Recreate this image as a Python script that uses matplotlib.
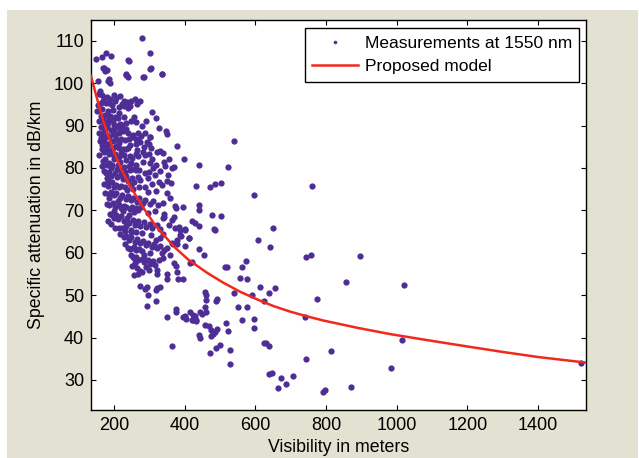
import matplotlib
matplotlib.use("Agg")
import matplotlib.pyplot as plt
from matplotlib.lines import Line2D
from matplotlib.patches import Rectangle

plt.rcParams['font.family'] = ['Liberation Sans', 'DejaVu Sans']

# Measured specific attenuation at 1550 nm versus visibility (one line per attenuation band)
visibility_m = [
    150, 165, 178, 192, 301, 242, 278, 172, 176, 180, 303, 337, 235, 239, 284, 156, 186, 190, 170, 240, 235, 283, 306, 335, 184,
    161, 158, 167, 173, 181, 189, 201, 207, 217, 169, 162, 204, 222, 227, 236, 247, 264, 273, 186, 194, 177, 213, 155, 241, 229, 245, 259,
    153, 162, 167, 176, 183, 189, 198, 203, 187, 177, 196, 211, 217, 227, 235, 249, 261, 279, 308, 320, 171, 164, 201, 214, 292, 258,
    157, 166, 171, 181, 187, 197, 203, 213, 219, 231, 239, 251, 255, 263, 269, 327, 348, 350, 378, 176, 184, 196, 206, 214, 167, 161, 226, 244, 276, 289, 301, 284, 539, 233, 179, 303, 293, 269, 273,
    166, 171, 181, 187, 197, 203, 213, 219, 229, 235, 245, 251, 261, 269, 281, 289, 301, 309, 321, 341, 369, 397, 441, 524, 169, 179, 185, 195, 201, 211, 217, 227, 233, 243, 249, 263, 176, 199, 214, 241, 266, 330, 304, 159, 167, 300, 319, 339, 355, 345, 363,
    171, 177, 187, 193, 203, 209, 219, 225, 235, 241, 251, 257, 267, 275, 287, 295, 307, 315, 327, 337, 351, 361, 173, 183, 189, 199, 205, 215, 221, 231, 237, 247, 253, 271, 289, 431, 471, 486, 503, 761, 181, 195, 221, 244, 261, 299, 331, 354, 311,
    175, 185, 191, 201, 207, 217, 223, 233, 239, 249, 255, 265, 271, 281, 289, 301, 311, 326, 339, 181, 187, 197, 203, 213, 219, 229, 235, 245, 251, 261, 269, 372, 376, 396, 441, 441, 595, 350, 320, 360, 296,
    189, 195, 205, 211, 221, 227, 237, 243, 253, 259, 269, 275, 285, 291, 301, 309, 321, 329, 342, 342, 478, 502, 650, 193, 203, 214, 231, 249, 183, 355, 365, 385, 400, 420, 440, 200, 429, 369, 340,
    217, 227, 233, 243, 249, 259, 265, 275, 281, 291, 297, 307, 313, 323, 329, 341, 349, 363, 378, 367, 411, 607, 642, 245, 255, 261, 271, 279, 239, 301, 390, 400, 231, 442, 373, 388, 402, 411, 388, 378, 224, 258, 482, 487, 331, 340,
    247, 253, 263, 269, 279, 285, 295, 301, 311, 317, 327, 259, 264, 275, 268, 280, 290, 300, 322, 322, 350, 350, 369, 375, 378, 382, 395, 421, 414, 454, 514, 520, 561, 573, 744, 759, 897, 340, 360, 250, 285, 256, 287, 258,
    273, 288, 293, 318, 322, 295, 318, 293, 350, 365, 576, 557, 459, 460, 461, 459, 461, 443, 448, 416, 425, 433, 395, 375, 376, 401, 405, 421, 433, 442, 444, 469, 474, 475, 481, 486, 491, 471, 490, 501, 529, 529, 524, 518, 539, 550, 490, 492, 561, 595, 595, 576, 592, 624, 614, 640, 657, 624, 631, 640, 640, 648, 665, 673, 688, 708, 744, 742, 776, 856, 1020, 813, 791, 797, 871, 984, 1014, 1521, 458, 430, 424, 331,
    168, 174, 182, 191, 199, 208, 216, 224, 232, 158, 163, 171, 179, 188, 206, 226, 243, 262, 281, 300, 184, 192, 209, 231, 252, 272,
    187, 199, 211, 226, 242, 257, 276, 296, 315, 233, 248, 262, 278, 305, 319, 335,
]
attenuation_db_km = [
    105.6, 106.1, 107.2, 106.4, 107.0, 105.3, 110.7, 103.5, 102.8, 103.2, 103.3, 102.2, 102.2, 101.4, 101.5, 100.4, 100.9, 100.1, 103.5, 105.4, 101.9, 101.5, 103.5, 102.2, 100.4,
    98.2, 97.5, 97.3, 96.5, 96.7, 96.2, 97.1, 96.6, 96.9, 95.9, 95.4, 95.8, 95.1, 94.6, 95.5, 95.8, 95.0, 95.7, 95.4, 94.8, 95.3, 94.4, 94.9, 94.1, 95.9, 94.6, 96.2,
    93.5, 92.2, 93.8, 92.6, 93.4, 92.3, 93.6, 92.1, 91.6, 90.8, 91.1, 91.7, 90.4, 92.1, 90.6, 91.1, 90.8, 90.0, 93.3, 91.7, 90.7, 89.7, 90.2, 93.0, 91.0, 92.0,
    88.3, 87.8, 88.9, 87.7, 87.4, 88.1, 87.7, 88.3, 86.8, 86.6, 88.2, 87.3, 87.7, 85.6, 86.7, 89.4, 88.6, 88.0, 85.2, 85.8, 85.7, 86.4, 85.2, 86.0, 85.5, 86.4, 88.7, 85.4, 87.6, 88.3, 87.2, 85.0, 86.3, 89.2, 89.7, 87.2, 86.2, 88.2, 86.2,
    84.4, 83.7, 84.0, 83.2, 84.7, 83.4, 82.7, 83.6, 83.0, 84.4, 82.8, 82.4, 83.3, 82.8, 81.3, 83.0, 81.2, 82.0, 83.8, 81.5, 80.3, 82.2, 80.8, 80.2, 81.6, 80.8, 81.2, 80.6, 82.1, 80.6, 81.4, 80.2, 81.8, 80.5, 81.2, 80.8, 82.2, 82.8, 84.8, 84.6, 84.3, 84.0, 84.8, 83.0, 80.4, 83.2, 80.8, 83.5, 82.0, 80.5, 80.0,
    79.2, 78.7, 79.0, 78.2, 78.8, 77.8, 78.4, 77.4, 78.0, 77.0, 77.6, 76.7, 77.8, 77.2, 78.8, 77.7, 76.2, 78.4, 76.6, 75.9, 77.0, 76.4, 76.2, 75.8, 76.6, 75.6, 76.0, 75.4, 75.8, 75.6, 74.8, 76.0, 75.0, 75.6, 75.4, 75.8, 75.6, 76.1, 76.4, 75.8, 77.6, 76.8, 79.3, 79.4, 79.4, 79.1, 79.2, 78.3, 80.0,
    74.2, 73.8, 74.4, 73.6, 74.0, 73.0, 73.6, 72.6, 73.4, 72.4, 73.0, 72.0, 72.8, 71.8, 72.4, 71.4, 72.2, 71.2, 71.8, 71.6, 71.2, 71.8, 70.8, 71.2, 70.6, 71.0, 70.8, 70.4, 70.8, 70.6, 70.0, 71.0, 70.6, 70.9, 70.0, 71.2, 73.6, 74.2, 74.6, 73.0, 74.4,
    69.2, 68.8, 69.0, 68.0, 68.6, 67.4, 68.2, 67.0, 67.8, 66.6, 67.4, 66.4, 67.2, 66.0, 66.8, 65.8, 66.6, 65.6, 68.5, 69.2, 69.0, 68.6, 65.8, 66.7, 65.8, 65.8, 65.2, 65.4, 67.6, 66.5, 67.8, 66.0, 65.5, 67.5, 66.2, 68.1, 66.9, 68.5, 68.1,
    64.4, 63.8, 64.0, 63.0, 63.6, 62.6, 63.2, 62.2, 62.8, 61.8, 62.4, 61.4, 62.0, 61.0, 61.6, 60.6, 61.2, 62.2, 62.0, 62.0, 63.4, 62.9, 61.3, 60.8, 61.0, 60.6, 60.8, 60.4, 61.2, 60.0, 64.0, 61.5, 62.0, 60.8, 65.8, 65.4, 65.4, 63.4, 64.2, 63.0, 65.8, 61.4, 65.6, 65.4, 63.5, 64.5,
    59.4, 59.0, 59.0, 58.2, 58.6, 57.8, 58.4, 57.4, 58.0, 57.2, 58.2, 57.5, 56.5, 55.6, 55.0, 55.4, 56.6, 56.0, 56.0, 55.0, 55.0, 53.7, 57.5, 56.8, 55.5, 53.7, 53.7, 57.7, 57.6, 59.5, 56.7, 56.7, 56.6, 58.1, 59.1, 59.4, 59.3, 58.8, 59.4, 56.8, 59.5, 58.8, 58.3, 54.8,
    52.2, 51.4, 51.9, 51.2, 51.6, 50.0, 48.7, 47.5, 44.9, 37.9, 53.9, 54.0, 50.8, 50.0, 48.9, 47.3, 46.1, 46.0, 45.6, 46.0, 45.3, 44.0, 44.8, 46.7, 46.1, 45.1, 44.3, 44.1, 44.1, 40.5, 39.8, 42.7, 41.8, 40.3, 40.8, 41.4, 41.9, 36.4, 37.5, 38.3, 37.1, 33.8, 41.6, 43.5, 50.4, 47.3, 48.6, 49.2, 44.2, 44.3, 42.2, 47.1, 50.0, 48.6, 52.0, 50.6, 51.6, 38.6, 38.6, 38.0, 31.4, 31.6, 28.0, 30.5, 29.1, 30.9, 35.0, 44.8, 49.0, 53.0, 52.4, 36.8, 27.2, 27.6, 28.4, 32.8, 39.4, 34.1, 43.0, 45.1, 44.1, 52.0,
    91.8, 89.2, 90.6, 88.9, 89.0, 89.8, 89.3, 90.2, 89.0, 91.0, 87.0, 86.8, 85.0, 84.0, 86.9, 84.4, 86.9, 86.8, 83.8, 85.6, 77.0, 79.9, 79.7, 79.0, 79.8, 79.4,
    72.8, 69.9, 72.2, 69.8, 69.0, 69.6, 70.8, 69.4, 69.8, 66.2, 64.9, 65.0, 64.6, 64.2, 63.0, 60.0,
]

# Proposed attenuation model, sampled along visibility
model_visibility_m = [135, 150, 170, 184, 200, 221, 240, 259, 288, 316, 345, 373, 410, 463, 510, 557, 605,
                      652, 699, 746, 793, 888, 982, 1100, 1199, 1300, 1400, 1534]
model_attenuation_db_km = [101.7, 97.0, 91.0, 87.6, 83.8, 79.6, 76.6, 73.9, 70.0, 66.6, 63.8, 61.2, 58.4, 55.3, 52.9, 50.8, 49.0,
                           47.4, 46.1, 45.0, 44.0, 42.3, 40.8, 39.2, 37.9, 36.6, 35.4, 34.1]

x_ticks = [200, 400, 600, 800, 1000, 1200, 1400]
y_ticks = [30, 40, 50, 60, 70, 80, 90, 100, 110]

W, H = 639, 458
fig = plt.figure(figsize=(W / 100, H / 100), dpi=100)
fig.patch.set_facecolor('white')
fig.add_artist(Rectangle((7 / W, 0), (638 - 7) / W, (H - 10) / H, transform=fig.transFigure,
                         facecolor='#E2E1D2', edgecolor='none', zorder=-10))

ax = fig.add_axes([91 / W, (H - 410) / H, (586 - 91) / W, (410 - 20) / H])
ax.set_facecolor('white')

dot_color = '#4E2D95'
line_color = '#F2281C'

ax.plot(visibility_m, attenuation_db_km, linestyle='none', marker='o', markersize=4.5,
        markerfacecolor=dot_color, markeredgecolor='none', zorder=2)
ax.plot(model_visibility_m, model_attenuation_db_km, color=line_color, linewidth=1.8,
        solid_joinstyle='round', zorder=3)

ax.set_xlim(135, 1536)
ax.set_ylim(22.9, 114.9)
ax.set_xticks(x_ticks)
ax.set_yticks(y_ticks)
ax.tick_params(direction='in', length=3.6, width=0.8, top=True, right=True,
               labelsize=13, pad=5, colors='black')
for s in ax.spines.values():
    s.set_linewidth(1.0)
    s.set_color('black')

ax.set_xlabel('Visibility in meters', fontsize=12.8, labelpad=4)
ax.set_ylabel('Specific attenuation in dB/km', fontsize=12.8, labelpad=6)

handles = [
    Line2D([], [], linestyle='none', marker='o', markersize=2.6, markerfacecolor=dot_color, markeredgecolor='none'),
    Line2D([], [], color=line_color, linewidth=1.8),
]
leg = ax.legend(handles, ['Measurements at 1550 nm', 'Proposed model'], loc='upper right',
                bbox_to_anchor=(0.986, 0.979), fontsize=12.5, frameon=True, fancybox=False,
                framealpha=1, edgecolor='black', handlelength=2.6, handletextpad=0.4,
                labelspacing=0.5, borderpad=0.42, borderaxespad=0.0)
leg.get_frame().set_linewidth(1.0)

fig.savefig('out.png', dpi=100)
